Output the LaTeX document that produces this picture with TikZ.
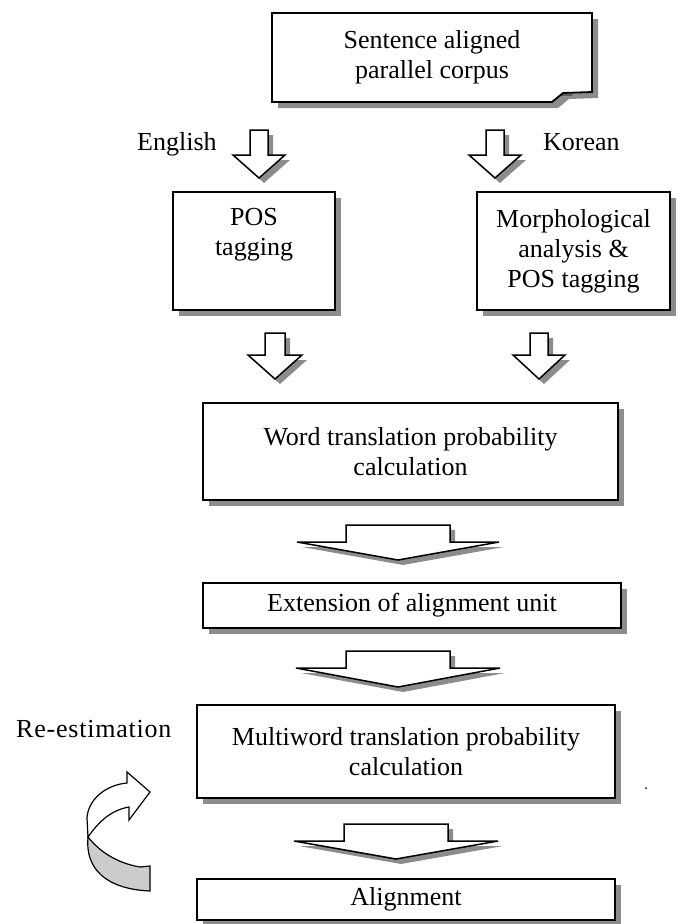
\documentclass[tikz,border=0pt]{standalone}
\usepackage{fontspec}
\setmainfont{Liberation Serif}
\usetikzlibrary{shadows}

\tikzset{
  stepbox/.style={draw, line width=1.8pt, fill=white, align=center, inner sep=0pt,
    font=\fontsize{26}{30}\selectfont,
    drop shadow={shadow xshift=6pt, shadow yshift=-6pt, fill=black!45, opacity=1}},
  lbl/.style={font=\fontsize{26}{30}\selectfont, inner sep=0pt, align=center},
}

% block arrow: centre x, top y, half shaft, half head, shaft length, head length
\newcommand\blkarrow[6]{%
  \foreach \d/\c/\e in {5/black!45/none, 0/white/black}
    \filldraw[fill=\c, draw=\e, line width=1.5pt, shift={(\d,\d)}]
      (#1-#3,#2) -- (#1+#3,#2) -- (#1+#3,#2+#5) -- (#1+#4,#2+#5)
      -- (#1,#2+#5+#6) -- (#1-#4,#2+#5) -- (#1-#3,#2+#5) -- cycle;
}

\begin{document}
\begin{tikzpicture}[x=1pt,y=-1pt]
  \useasboundingbox (0,0) rectangle (683,924);

  % corpus note with turned corner
  \fill [black!45] (278,19) -- (598,19) -- (598,98) -- (569,99) -- (558,108) -- (278,108) -- cycle;
  \draw [fill=white, line width=1.8pt] (272,13) -- (592,13) -- (592,92) -- (563,93) -- (552,102) -- (272,102) -- cycle;
  \draw [line width=0.8pt] (554,100) -- (561,95) -- (572,95);
  \node [lbl] (corpus) at (432,57) {Sentence aligned\\parallel corpus};

  \node [lbl, anchor=base west] (en) at (137,150) {English};
  \node [lbl, anchor=base west] (ko) at (543,150) {Korean};

  \blkarrow{259}{130}{9}{26}{25}{23}
  \blkarrow{495}{130}{9}{26}{25}{23}

  \node [stepbox, minimum width=162pt, minimum height=118pt] (pos) at (254,251) {POS\\tagging\\\strut};
  \node [stepbox, minimum width=193pt, minimum height=118pt] (morph) at (573.5,251) {Morphological\\analysis \&\\POS tagging};

  \blkarrow{275}{333}{10}{27}{22}{24}
  \blkarrow{539}{333}{9}{26}{22}{24}

  \node [stepbox, minimum width=415pt, minimum height=97pt] (word) at (410.5,451.5) {Word translation probability\\calculation};
  \blkarrow{398}{525}{52}{101}{17}{18}
  \node [stepbox, minimum width=418pt, minimum height=45pt] (ext) at (412,605.5) {Extension of alignment unit};
  \blkarrow{398}{651}{52}{102}{17}{19}
  \node [stepbox, minimum width=418pt, minimum height=93pt] (multi) at (406,751.5) {Multiword translation probability\\calculation};
  \blkarrow{396}{824}{52}{102}{17}{18}
  \node [stepbox, minimum width=418pt, minimum height=41pt] (align) at (406,899.5) {Alignment};

  % re-estimation loop
  \node [lbl, anchor=base west, font=\fontsize{26}{30}\selectfont\addfontfeatures{LetterSpace=3}] (reest) at (16,737) {Re-estimation};
  \draw [fill=black!20, line width=1.2pt] (150,866) -- (140,867) .. controls (117,863) and (100,852) .. (88,837)
    .. controls (85,868) and (105,889) .. (150,891) -- cycle;
  \draw [fill=white, line width=1.2pt] (88,837) .. controls (100,820) and (112,810) .. (129,807) -- (129,820)
    -- (150,792) -- (127,772) -- (127,783) .. controls (105,785) and (88,800) .. (87,818) -- cycle;

  \fill (646,788) circle (1);
\end{tikzpicture}
\end{document}
